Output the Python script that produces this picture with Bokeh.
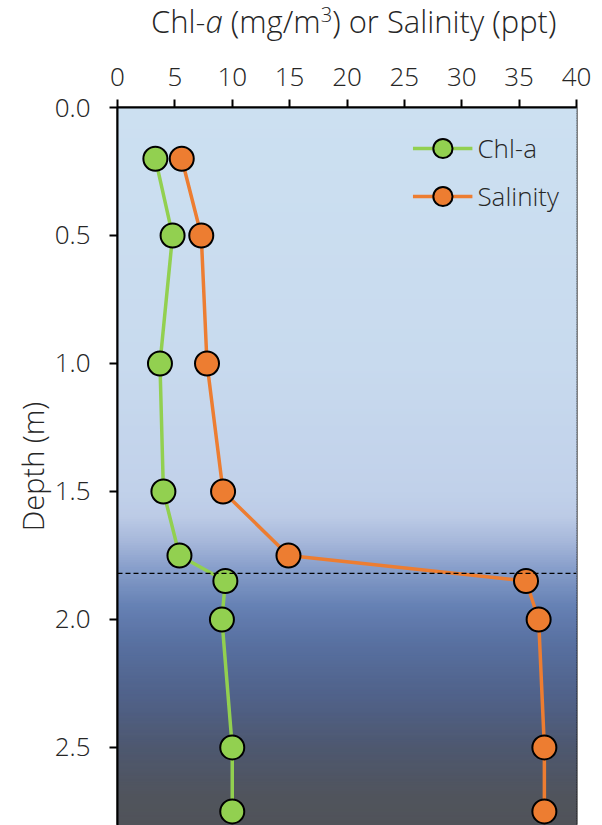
import numpy as np
from bokeh.plotting import figure
from bokeh.layouts import column
from bokeh.models import Range1d, FixedTicker, NumeralTickFormatter, Span, Legend, LegendItem, ColumnDataSource, Div
from bokeh.embed import file_html
from bokeh.resources import INLINE

# ---- data ----
depth = [0.2, 0.5, 1.0, 1.5, 1.75, 1.85, 2.0, 2.5, 2.75]
chl_a = [3.3, 4.8, 3.7, 4.0, 5.4, 9.4, 9.1, 10.0, 10.0]
salinity = [5.6, 7.3, 7.8, 9.2, 14.9, 35.6, 36.7, 37.2, 37.2]
x_ticks = [0, 5, 10, 15, 20, 25, 30, 35, 40]
y_ticks = [0.0, 0.5, 1.0, 1.5, 2.0, 2.5]
halocline_depth = 1.82

FONT = "'Open Sans Light', 'Open Sans'"
GREEN = "#92d050"
ORANGE = "#ed7d31"
TXT = "#262626"

TITLE_H = 44

title = Div(text="Chl-<i>a</i> (mg/m<sup style='font-size:65%'>3</sup>) or Salinity (ppt)",
            width=602, height=TITLE_H, margin=0,
            styles={"font-family": FONT, "font-size": "31px", "line-height": "28px",
                    "color": TXT, "padding-left": "151px", "white-space": "nowrap"})

p = figure(frame_width=459, frame_height=718,
           x_range=Range1d(0, 40), y_range=Range1d(2.805, 0),
           x_axis_location="above",
           output_backend="svg", toolbar_location=None,
           min_border_left=117, min_border_right=26,
           min_border_top=107 - TITLE_H, min_border_bottom=0, margin=0)

p.background_fill_color = "white"
p.border_fill_color = "white"
p.grid.visible = False
p.outline_line_color = "black"
p.outline_line_width = 2

# background gradient (style only)
stops_d = [0.0, 1.0, 1.5, 1.6, 1.7, 1.8, 1.95, 2.1, 2.3, 2.5, 2.7, 2.81]
stops_c = [(204, 224, 241), (200, 218, 238), (193, 209, 234), (188, 203, 230),
           (166, 183, 218), (136, 159, 203), (102, 129, 180), (88, 112, 160),
           (80, 98, 138), (78, 88, 112), (80, 84, 92), (80, 83, 90)]
n = 300
edges = np.linspace(0, 2.81, n + 1)
mids = (edges[:-1] + edges[1:]) / 2
cols = []
for m in mids:
    rgb = [int(round(np.interp(m, stops_d, [c[k] for c in stops_c]))) for k in range(3)]
    cols.append("#%02x%02x%02x" % tuple(rgb))
p.quad(left=0, right=40, top=edges[:-1], bottom=edges[1:], fill_color=cols,
       line_color=cols, line_width=1.5)

p.add_layout(Span(location=halocline_depth, dimension="width", line_color="black",
                  line_dash="5 3", line_width=1.2))

src = ColumnDataSource(dict(depth=depth, chl=chl_a, sal=salinity))
l1 = p.line("chl", "depth", source=src, line_color=GREEN, line_width=3.5)
c1 = p.scatter("chl", "depth", source=src, size=24, fill_color=GREEN, line_color="black", line_width=2)
l2 = p.line("sal", "depth", source=src, line_color=ORANGE, line_width=3.5)
c2 = p.scatter("sal", "depth", source=src, size=24, fill_color=ORANGE, line_color="black", line_width=2)

legend = Legend(items=[LegendItem(label="Chl-a", renderers=[l1, c1]),
                       LegendItem(label="Salinity", renderers=[l2, c2])],
                location="top_right", background_fill_alpha=0, border_line_alpha=0,
                label_text_font=FONT, label_text_font_size="26px", label_text_color=TXT,
                glyph_width=60, glyph_height=48, spacing=0, label_standoff=5,
                margin=12, padding=5)
p.add_layout(legend)

for ax in (p.xaxis[0], p.yaxis[0]):
    ax.axis_line_width = 2
    ax.axis_line_color = "black"
    ax.major_tick_line_width = 2
    ax.major_tick_line_color = "black"
    ax.major_tick_in = 0
    ax.major_tick_out = 8
    ax.minor_tick_line_color = None
    ax.major_label_text_font = FONT
    ax.major_label_text_font_size = "26px"
    ax.major_label_text_color = TXT
    ax.axis_label_text_font = FONT
    ax.axis_label_text_font_size = "29px"
    ax.axis_label_text_font_style = "normal"
    ax.axis_label_text_color = TXT

p.xaxis.ticker = FixedTicker(ticks=x_ticks)
p.xaxis.major_label_standoff = 14

p.yaxis.ticker = FixedTicker(ticks=y_ticks)
p.yaxis.formatter = NumeralTickFormatter(format="0.0")
p.yaxis.axis_label = "Depth (m)"
p.yaxis.major_label_standoff = 19
p.yaxis.axis_label_standoff = 0

layout = column(title, p, spacing=0, margin=0)
open("out.html", "w").write(file_html(layout, INLINE))
